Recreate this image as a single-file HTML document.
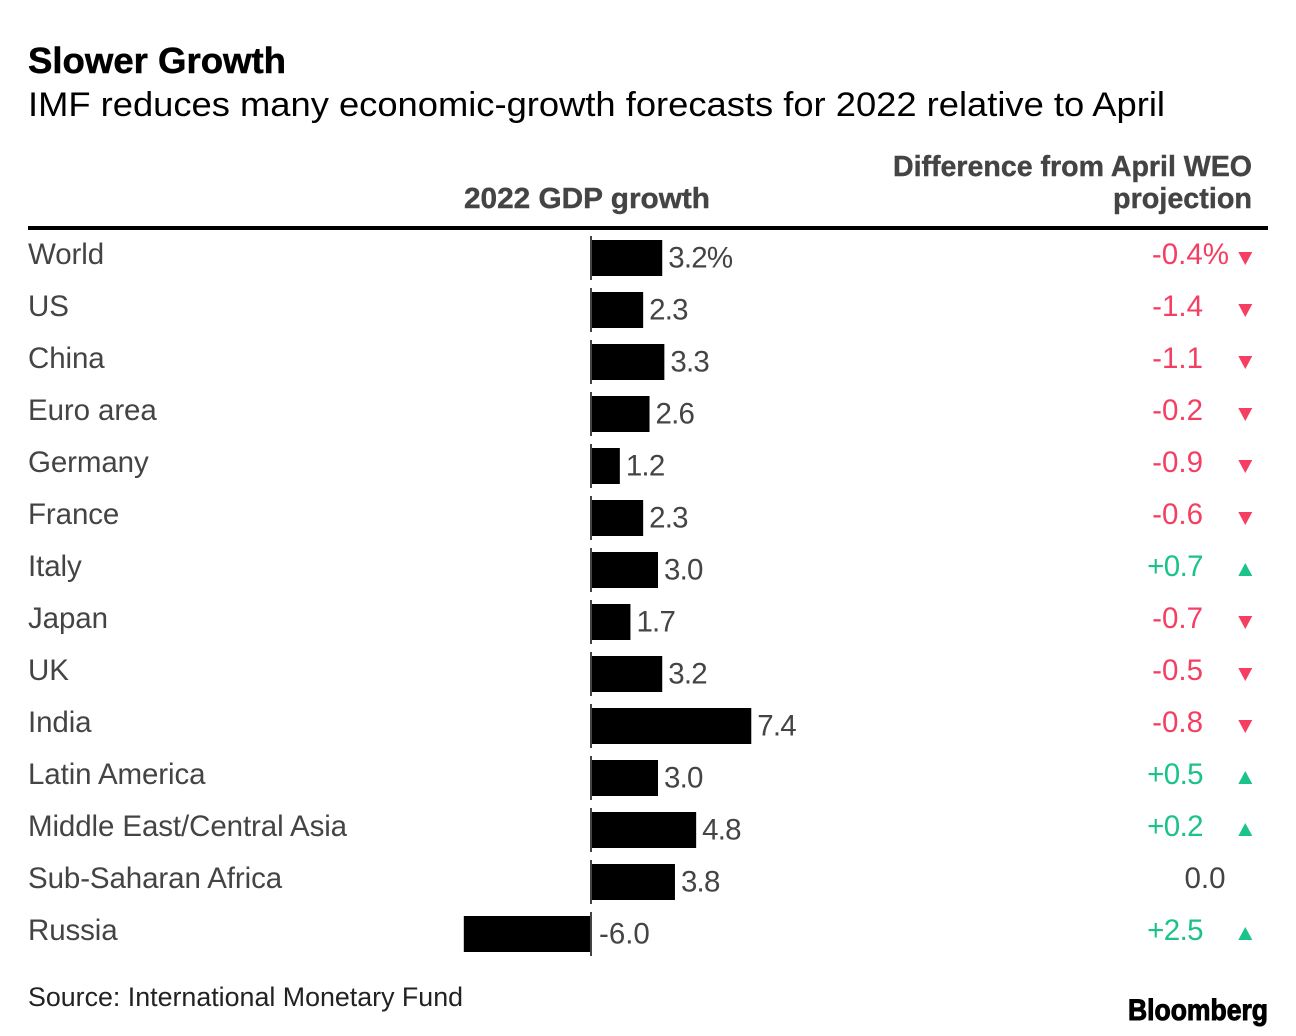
<!DOCTYPE html>
<html lang="en">
<head>
<meta charset="utf-8">
<title>Slower Growth</title>
<style>
html,body{margin:0;padding:0;background:#fff;}
svg{display:block;font-family:"Liberation Sans",Arial,sans-serif;}
</style>
</head>
<body>
<svg id="chart" xmlns="http://www.w3.org/2000/svg" width="1296" height="1036" viewBox="0 0 1296 1036">
  <rect x="0" y="0" width="1296" height="1036" fill="#fff"/>
  <text x="28" y="73" font-size="36" font-weight="700" fill="#000" stroke="#000" stroke-width="0.5" textLength="258" lengthAdjust="spacingAndGlyphs">Slower Growth</text>
  <text x="28" y="116" font-size="34" fill="#000" textLength="1137" lengthAdjust="spacingAndGlyphs">IMF reduces many economic-growth forecasts for 2022 relative to April</text>
  <text x="464" y="208" font-size="29" font-weight="700" fill="#444" stroke="#444" stroke-width="0.4" textLength="246" lengthAdjust="spacingAndGlyphs">2022 GDP growth</text>
  <text x="893" y="176" font-size="29" font-weight="700" fill="#444" stroke="#444" stroke-width="0.4" textLength="359" lengthAdjust="spacingAndGlyphs">Difference from April WEO</text>
  <text x="1113" y="208" font-size="29" font-weight="700" fill="#444" stroke="#444" stroke-width="0.4" textLength="139" lengthAdjust="spacingAndGlyphs">projection</text>
  <rect x="28" y="226" width="1240" height="4" fill="#000"/>
  <g id="rows"></g>
  <text x="28" y="1006" font-size="27" fill="#222" textLength="435" lengthAdjust="spacingAndGlyphs">Source: International Monetary Fund</text>
  <text x="1128" y="1020" font-size="30" font-weight="700" fill="#000" stroke="#000" stroke-width="1" textLength="140" lengthAdjust="spacingAndGlyphs">Bloomberg</text>
</svg>
<script>
const categories = ["World","US","China","Euro area","Germany","France","Italy","Japan","UK","India","Latin America","Middle East/Central Asia","Sub-Saharan Africa","Russia"];
const growthValues = [3.2,2.3,3.3,2.6,1.2,2.3,3.0,1.7,3.2,7.4,3.0,4.8,3.8,-6.0];
const differenceValues = [-0.4,-1.4,-1.1,-0.2,-0.9,-0.6,0.7,-0.7,-0.5,-0.8,0.5,0.2,0.0,2.5];

const NS = "http://www.w3.org/2000/svg";
const rowsGroup = document.getElementById("rows");
const RED = "#f43f62";
const GREEN = "#1bc28c";
const INK = "#444";

function rowTop(i){ return 240 + i * 52; }
function xZero(){ return 591; }
function barEnd(v){ return v >= 0 ? xZero() + 3.4 + v * 21.2 : xZero() + v * 21.2; }
function make(tag, parent){
  const el = document.createElementNS(NS, tag);
  parent.appendChild(el);
  return el;
}
function put(el, props){
  for (const k in props) el.setAttribute(k, props[k]);
}

categories.forEach(function(name, i){
  const top = rowTop(i);
  const g = growthValues[i];
  const d = differenceValues[i];
  const slug = name.toLowerCase().replace(/[^a-z]+/g, "-");

  const group = make("g", rowsGroup);
  
  

  const label = make("text", group);
  
  
  put(label, {x: 28, y: top + 24, "font-size": 29.5, fill: INK, "letter-spacing": -0.1});
  label.textContent = name;

  const bar = make("rect", group);
  
  
  const end = barEnd(g);
  const start = g >= 0 ? xZero() : end;
  put(bar, {x: start, y: top, width: Math.abs(end - xZero()), height: 36, fill: "#000"});

  const axis = make("rect", group);
  
  
  put(axis, {x: xZero() - 1, y: top - 4, width: 2, height: 44, fill: "#444"});

  const value = make("text", group);
  
  
  const valueX = g >= 0 ? end + 6 : xZero() + 8;
  put(value, {x: valueX, y: top + 27.5, "font-size": 29.5, fill: INK, "letter-spacing": g >= 0 ? -0.8 : 0});
  value.textContent = g.toFixed(1) + (i === 0 ? "%" : "");

  const diff = make("text", group);
  
  
  const diffText = (d > 0 ? "+" : "") + d.toFixed(1);
  const color = d > 0 ? GREEN : d < 0 ? RED : INK;
  if (d === 0) {
    put(diff, {x: 1205, y: top + 24, "font-size": 29.5, fill: color, "text-anchor": "middle"});
  } else {
    put(diff, {x: i === 0 ? 1229 : 1203, y: top + 24, "font-size": 29.5, fill: color, "text-anchor": "end", "letter-spacing": d > 0 ? -0.6 : 0});
  }
  diff.textContent = diffText + (i === 0 ? "%" : "");

  if (d !== 0) {
    const arrow = make("polygon", group);
    
    
    const c = 1245.3;
    const pts = d > 0
      ? [[c - 7, top + 24], [c + 7, top + 24], [c, top + 11]]
      : [[c - 7, top + 12], [c + 7, top + 12], [c, top + 25]];
    put(arrow, {points: pts.map(function(p){ return p.join(","); }).join(" "), fill: color});
  }
});
</script>
</body>
</html>
